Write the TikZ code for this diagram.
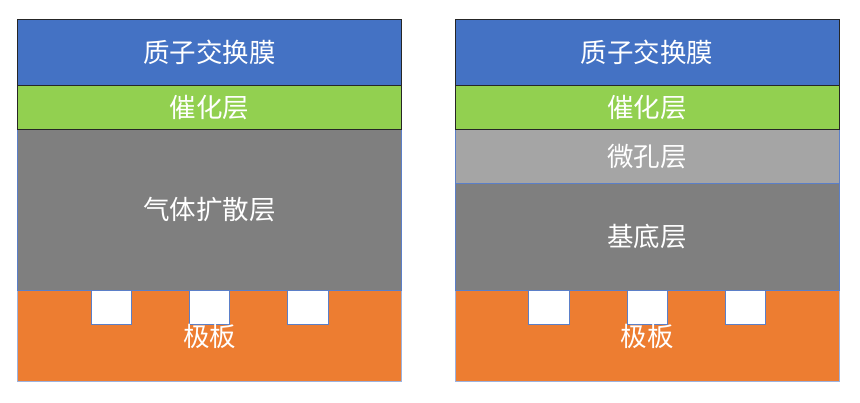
\documentclass[tikz,border=0pt]{standalone}
\usepackage{fontspec}
\newfontfamily\cjk{Noto Sans CJK SC}
\definecolor{pemblue}{HTML}{4472C4}
\definecolor{catgreen}{HTML}{92D050}
\definecolor{gdlgray}{HTML}{7F7F7F}
\definecolor{mplgray}{HTML}{A5A5A5}
\definecolor{plateorange}{HTML}{ED7D31}
\definecolor{edgeblue}{HTML}{5B7FC8}
\tikzset{
  lbl/.style={text=white, font=\cjk\fontsize{26.5}{30}\selectfont, inner sep=0pt},
  slot/.style={fill=white, draw=edgeblue, line width=0.8pt}
}
\begin{document}
\begin{tikzpicture}[x=1pt,y=-1pt]
\useasboundingbox (0,0) rectangle (860,402);
\fill[white] (0,0) rectangle (860,402);
% ---------- left panel ----------
\filldraw[fill=plateorange, draw=edgeblue!60, line width=0.8pt] (17.5,290) rectangle (401.7,381);
\filldraw[fill=gdlgray, draw=edgeblue, line width=0.8pt] (17.5,129) rectangle (401.7,290);
\filldraw[fill=catgreen, draw=black!85, line width=0.8pt] (17.5,85.7) rectangle (401.7,129);
\filldraw[fill=pemblue, draw=black!85, line width=0.8pt] (17.5,19) rectangle (401.7,85.7);
\draw[slot] (91.7,290) rectangle (131,324);
\draw[slot] (189.3,290) rectangle (229.7,324);
\draw[slot] (287.7,290) rectangle (328,324);
\node[lbl] (pemL) at (209.6,52) {质子交换膜};
\node[lbl] (catL) at (209.6,107.5) {催化层};
\node[lbl] (gdlL) at (209.6,210) {气体扩散层};
\node[lbl] (bpL) at (209.6,336) {极板};
% ---------- right panel ----------
\filldraw[fill=plateorange, draw=edgeblue!60, line width=0.8pt] (455,290) rectangle (839.3,381);
\filldraw[fill=gdlgray, draw=edgeblue, line width=0.8pt] (455,183.3) rectangle (839.3,290);
\filldraw[fill=mplgray, draw=edgeblue, line width=0.8pt] (455,129) rectangle (839.3,183.3);
\filldraw[fill=catgreen, draw=black!85, line width=0.8pt] (455,85.7) rectangle (839.3,129);
\filldraw[fill=pemblue, draw=black!85, line width=0.8pt] (455,19) rectangle (839.3,85.7);
\draw[slot] (528.7,290) rectangle (569,324);
\draw[slot] (627.3,290) rectangle (667.3,324);
\draw[slot] (725.7,290) rectangle (765.7,324);
\node[lbl] (pemR) at (647.2,52) {质子交换膜};
\node[lbl] (catR) at (647.2,107.5) {催化层};
\node[lbl] (mplR) at (647.2,157) {微孔层};
\node[lbl] (subR) at (647.2,237) {基底层};
\node[lbl] (bpR) at (647.2,336) {极板};
\end{tikzpicture}
\end{document}
